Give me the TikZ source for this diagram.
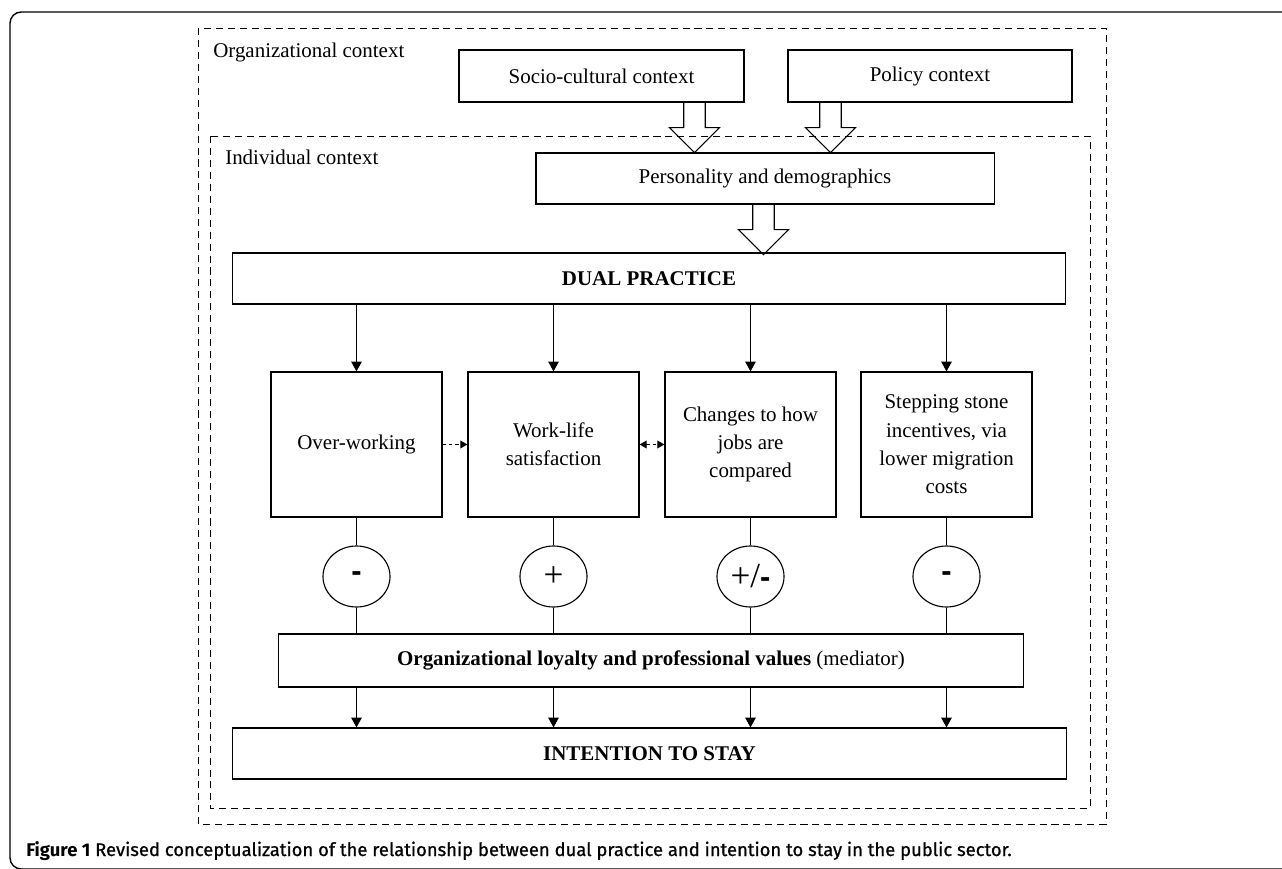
\documentclass[tikz,border=0pt]{standalone}
\usepackage{fontspec}
\setmainfont{Liberation Serif}
\newfontfamily\captionfont{Fira Sans}
\newfontfamily\captionmedium{Fira Sans}[FakeBold=0.8]
\newfontfamily\signfont{Liberation Sans}
\usetikzlibrary{arrows.meta, calc, shapes.geometric}

\newcommand{\boxfont}{\fontsize{14.9pt}{20.1pt}\selectfont}
\newcommand{\signsize}{\fontsize{25pt}{28pt}\selectfont}
\newcommand{\minussign}{{\signfont\bfseries\fontsize{22pt}{26pt}\selectfont -}}

\begin{document}
\begin{tikzpicture}[x=0.025cm, y=-0.025cm,
  box/.style={rectangle, draw, line width=0.8pt, inner sep=0pt, align=center, font=\boxfont},
  factor/.style={box, minimum width=4.275cm, minimum height=3.625cm},
  sign/.style={ellipse, draw, line width=0.8pt, minimum width=1.675cm, minimum height=1.525cm, inner sep=0pt, font=\signsize},
  context/.style={line width=0.7pt, dash pattern=on 5pt off 3.5pt},
  ctxlabel/.style={anchor=base west, inner sep=0pt, font=\boxfont},
  arrow/.style={-{Triangle[length=7pt, width=7.5pt]}, line width=0.8pt},
  link/.style={line width=0.8pt},
  dotarrow/.style={line width=0.8pt, dash pattern=on 2.5pt off 2pt},
  fatarrow/.pic={\draw[line width=0.8pt, line join=miter] (-10.75,0) -- (-10.75,25) -- (-25,25) -- (0,50) -- (25,25) -- (10.75,25) -- (10.75,0);}
]
  \useasboundingbox (0,0) rectangle (1282,868);

  % Figure frame
  \draw[line width=1pt, rounded corners=8pt] (1300,12) -- (10,12) -- (10,869) -- (1300,869);

  % Contexts
  \draw[context] (198,28) rectangle (1106,824);
  \draw[context] (210,136) rectangle (1090,808);
  \node[ctxlabel] (orglabel) at (213,57) {Organizational context};
  \node[ctxlabel] (indlabel) at (225,164) {Individual context};

  % Upper boxes
  \node[box, minimum width=7.125cm, minimum height=1.3cm] (socio) at (601.5,76) {Socio-cultural context};
  \node[box, minimum width=7.1cm, minimum height=1.3cm] (policy) at (930,76) {Policy context};
  \node[box, minimum width=11.45cm, minimum height=1.275cm] (person) at (765,178.5) {Personality and demographics};
  \node[box, minimum width=20.8cm, minimum height=1.275cm, font=\boxfont\bfseries] (dual) at (649,278.5) {DUAL PRACTICE};

  % Block arrows
  \pic at ($(socio.south)+(93,0)$) {fatarrow};
  \pic at ($(policy.south)+(-99.5,0)$) {fatarrow};
  \pic at ($(person.south)+(-1.5,0)$) {fatarrow};

  % Mechanisms
  \node[factor] (overwork) at (356.5,444.5) {Over-working};
  \node[factor] (worklife) at (553.5,444.5) {Work-life\\satisfaction};
  \node[factor] (compare) at (750.5,444.5) {Changes to how\\jobs are\\compared};
  \node[factor] (stepping) at (946.5,444.5) {Stepping stone\\incentives, via\\lower migration\\costs};

  % Signs
  \node[sign] (s1) at (356.5,576.5) {\minussign};
  \node[sign] (s2) at (553.5,576.5) {+};
  \node[sign] (s3) at (750.5,576.5) {+/\minussign};
  \node[sign] (s4) at (946.5,576.5) {\minussign};

  % Outcome boxes
  \node[box, minimum width=18.6cm, minimum height=1.325cm] (loyalty) at (651,660.5) {\textbf{Organizational loyalty and professional values} (mediator)};
  \node[box, minimum width=20.825cm, minimum height=1.275cm, font=\boxfont\bfseries] (stay) at (649.5,753.5) {INTENTION TO STAY};

  % Connectors
  \foreach \f/\s in {overwork/s1, worklife/s2, compare/s3, stepping/s4} {
    \draw[arrow] (dual.south -| \f.north) -- (\f.north);
    \draw[link] (\f.south) -- (\s.north);
    \draw[link] (\s.south) -- (\s.south |- loyalty.north);
    \draw[arrow] (loyalty.south -| \f.south) -- (\f.south |- stay.north);
  }
  \draw[dotarrow, -{Triangle[length=5pt, width=5.5pt]}] (overwork.east) -- (worklife.west);
  \draw[dotarrow, {Triangle[length=5pt, width=5.5pt]}-{Triangle[length=5pt, width=5.5pt]}] (worklife.east) -- (compare.west);

  % Caption
  \node[anchor=base west, inner sep=0pt, font=\captionmedium\fontsize{13.1pt}{15pt}\selectfont] (caption) at (26,856) {{\captionfont\bfseries Figure 1} Revised conceptualization of the relationship between dual practice and intention to stay in the public sector.};
\end{tikzpicture}
\end{document}
